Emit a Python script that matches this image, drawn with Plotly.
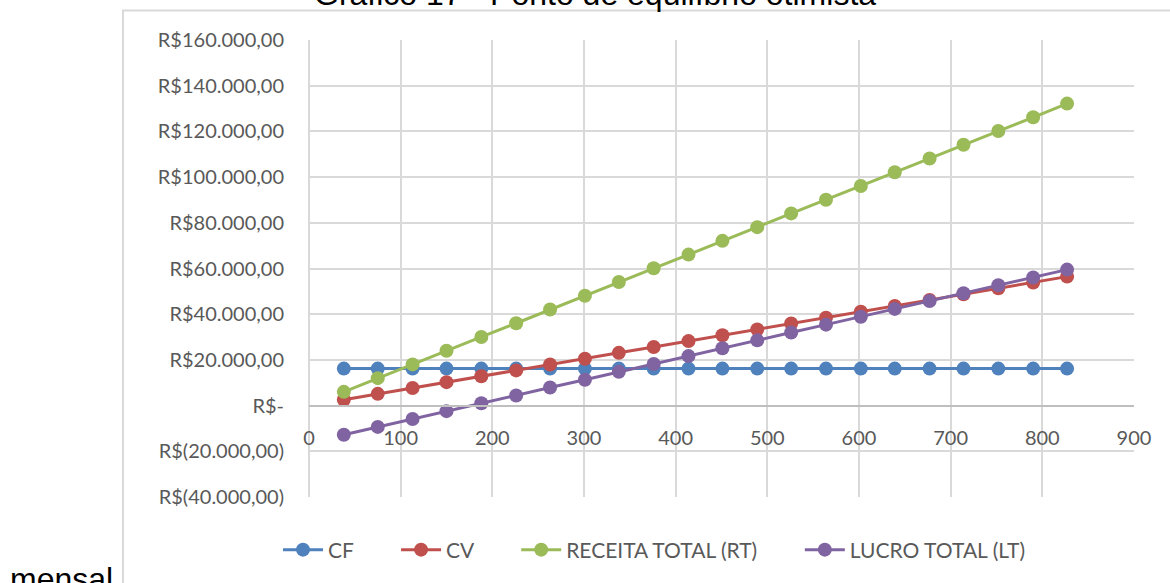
import plotly.graph_objects as go

# Quantidade vendida (unidades)
quantidade = [38, 75, 113, 150, 188, 226, 263, 301, 338, 376, 414,
              451, 489, 526, 564, 602, 639, 677, 714, 752, 790, 827]

# Custo fixo mensal
cf = [16200] * 22

# Custo variável
cv = [2566, 5132, 7698, 10264, 12830, 15396, 17962, 20528, 23094, 25660, 28226,
      30792, 33358, 35924, 38490, 41056, 43622, 46188, 48754, 51320, 53886, 56452]

# Receita total
rt = [6008, 12016, 18024, 24032, 30040, 36048, 42056, 48064, 54072, 60080, 66088,
      72096, 78104, 84112, 90120, 96128, 102136, 108144, 114152, 120160, 126168, 132176]

# Lucro total
lt = [-12758, -9316, -5874, -2432, 1010, 4452, 7894, 11336, 14778, 18220, 21662,
      25104, 28546, 31988, 35430, 38872, 42314, 45756, 49198, 52640, 56082, 59524]

y_vals = [160000, 140000, 120000, 100000, 80000, 60000, 40000, 20000, 0, -20000, -40000]
y_text = ["R$160.000,00", "R$140.000,00", "R$120.000,00", "R$100.000,00", "R$80.000,00",
          "R$60.000,00", "R$40.000,00", "R$20.000,00", "R$-", "R$(20.000,00)", "R$(40.000,00)"]

series = [
    ("CF", cf, "#4F81BD"),
    ("CV", cv, "#C0504D"),
    ("RECEITA TOTAL (RT)", rt, "#9BBB59"),
    ("LUCRO TOTAL (LT)", lt, "#8064A2"),
]

tick_font = dict(family="Lato, Open Sans, sans-serif", size=20, color="#595959")
legend_font = dict(family="Lato, Open Sans, sans-serif", size=21, color="#595959")
grid = "#D9D9D9"
pad = "\u00a0" * 7  # espaço entre as entradas da legenda

fig = go.Figure()
for name, vals, color in series:
    fig.add_trace(go.Scatter(
        x=quantidade, y=vals, name=name + pad, mode="lines+markers",
        line=dict(color=color, width=3),
        marker=dict(color=color, size=14),
    ))

fig.update_layout(
    width=1170, height=583,
    margin=dict(l=309, r=36, t=40, b=86),
    paper_bgcolor="white", plot_bgcolor="white",
    showlegend=True,
    legend=dict(
        orientation="h", x=(673 - 309) / 825, xanchor="center", y=(497 - 550) / 457,
        yanchor="middle", font=legend_font, itemwidth=40, tracegroupgap=0,
    ),
    xaxis=dict(
        range=[0, 900], dtick=100, tick0=0,
        showgrid=True, gridcolor=grid, gridwidth=1.5,
        zeroline=True, zerolinecolor=grid, zerolinewidth=1.5,
        anchor="free", position=0.2,
        showline=True, linecolor="#BFBFBF", linewidth=1.5,
        ticks="", tickfont=tick_font, ticklabelstandoff=15,
        mirror=False,
    ),
    yaxis=dict(
        range=[-40000, 160000], tickvals=y_vals, ticktext=y_text,
        showgrid=True, gridcolor=grid, gridwidth=1.5,
        zeroline=True, zerolinecolor="#BFBFBF", zerolinewidth=1.5,
        ticks="", tickfont=tick_font, ticklabelstandoff=24,
    ),
)

# Moldura da área do gráfico
fig.add_shape(type="rect", xref="paper", yref="paper",
              x0=-0.2255, x1=1.06, y0=-0.25, y1=1.0645,
              line=dict(color="#D9D9D9", width=2), layer="below")

# Título do gráfico e texto do documento
fig.add_annotation(text="Gráfico 17 - Ponto de equilíbrio otimista",
                   xref="paper", yref="paper", x=(595 - 309) / 825, y=(497 - 14) / 457,
                   xanchor="center", yanchor="bottom", showarrow=False,
                   font=dict(family="Liberation Sans, Arial, sans-serif", size=32, color="black"))
fig.add_annotation(text="mensal",
                   xref="paper", yref="paper", x=(8 - 309) / 825, y=(497 - 559) / 457,
                   xanchor="left", yanchor="top", showarrow=False,
                   font=dict(family="Liberation Sans, Arial, sans-serif", size=32, color="black"))

fig.write_html("out.html")
